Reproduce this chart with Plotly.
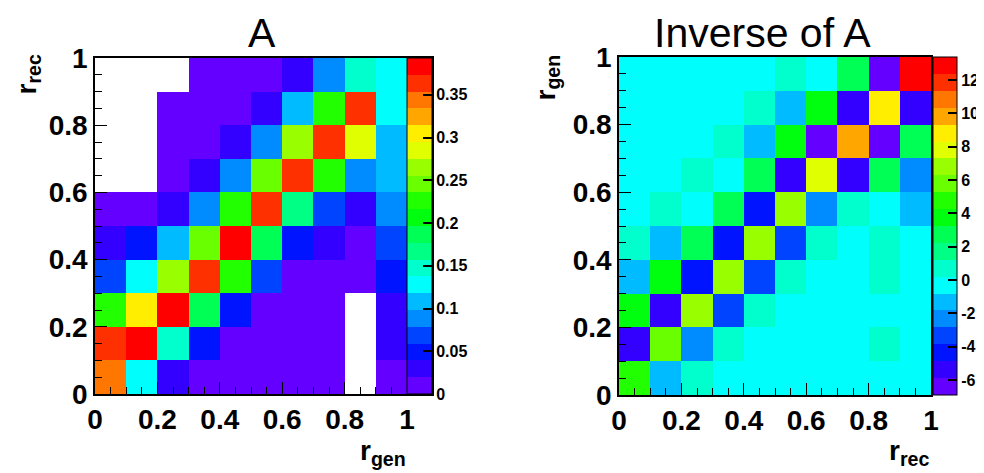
import colorsys
import plotly.graph_objects as go

# ---------------- data ----------------
bin_centers = [0.05, 0.15, 0.25, 0.35, 0.45, 0.55, 0.65, 0.75, 0.85, 0.95]
axis_ticks = [0, 0.2, 0.4, 0.6, 0.8, 1.0]
axis_ticktext = ["0", "0.2", "0.4", "0.6", "0.8", "1"]

# Matrix A: rows = r_rec bins (bottom to top), columns = r_gen bins (None = empty bin)
A_row0 = [0.344, 0.128, 0.030, 0.010, 0.008, 0.006, 0.005, 0.005, None, 0.012]
A_row1 = [0.364, 0.385, 0.147, 0.049, 0.012, 0.008, 0.006, 0.005, None, 0.030]
A_row2 = [0.226, 0.305, 0.388, 0.187, 0.049, 0.012, 0.008, 0.006, None, 0.032]
A_row3 = [0.069, 0.128, 0.265, 0.364, 0.226, 0.069, 0.012, 0.009, 0.007, 0.050]
A_row4 = [0.030, 0.049, 0.108, 0.246, 0.390, 0.187, 0.049, 0.030, 0.015, 0.069]
A_row5 = [0.010, 0.012, 0.030, 0.088, 0.226, 0.364, 0.167, 0.069, 0.030, 0.088]
A_row6 = [None, None, 0.008, 0.030, 0.088, 0.246, 0.364, 0.226, 0.088, 0.108]
A_row7 = [None, None, 0.006, 0.012, 0.030, 0.088, 0.265, 0.364, 0.285, 0.108]
A_row8 = [None, None, 0.004, 0.008, 0.015, 0.030, 0.108, 0.226, 0.364, 0.128]
A_row9 = [None, None, None, 0.004, 0.008, 0.012, 0.030, 0.088, 0.147, 0.128]
A_zrange = [0.0, 0.393]
A_cbar_vals = [0, 0.05, 0.10, 0.15, 0.20, 0.25, 0.30, 0.35]
A_cbar_text = ["0", "0.05", "0.1", "0.15", "0.2", "0.25", "0.3", "0.35"]

# Inverse of A: rows = r_gen bins (bottom to top), columns = r_rec bins
B_row0 = [4.8, -1.3, 0.7, 0.05, 0.02, 0.0, 0.0, -0.02, 0.05, 0.0]
B_row1 = [-5.4, 5.8, -2.3, 0.7, 0.1, 0.05, -0.05, 0.0, 0.5, 0.05]
B_row2 = [3.7, -5.4, 6.8, -3.4, 0.8, 0.1, -0.1, 0.0, 0.1, 0.05]
B_row3 = [-1.3, 3.7, -4.4, 6.8, -3.4, 0.8, 0.1, -0.1, 0.4, 0.0]
B_row4 = [0.7, -1.3, 2.7, -4.4, 6.8, -3.3, 0.9, 0.0, 0.5, 0.0]
B_row5 = [0.0, 0.6, -0.3, 2.7, -4.4, 6.8, -2.3, 0.7, -0.2, -1.3]
B_row6 = [0.0, 0.1, 0.6, -0.2, 2.7, -5.4, 7.8, -5.4, 2.7, -2.3]
B_row7 = [0.0, 0.0, -0.1, 0.6, -1.3, 3.7, -6.4, 9.8, -6.4, 2.7]
B_row8 = [0.0, 0.0, 0.0, -0.1, 0.6, -1.3, 3.7, -5.4, 8.8, -5.4]
B_row9 = [0.0, 0.0, 0.0, 0.0, -0.1, 0.5, -0.2, 2.7, -6.9, 13.38]
B_zrange = [-6.9, 13.38]
B_cbar_vals = [-6, -4, -2, 0, 2, 4, 6, 8, 10, 12]
B_cbar_text = ["-6", "-4", "-2", "0", "2", "4", "6", "8", "10", "12"]

A = [A_row0, A_row1, A_row2, A_row3, A_row4, A_row5, A_row6, A_row7, A_row8, A_row9]
B = [B_row0, B_row1, B_row2, B_row3, B_row4, B_row5, B_row6, B_row7, B_row8, B_row9]

# ---------------- ROOT "pretty" palette with 20 contour bands ----------------
N_BANDS = 20
colorscale = []
for k in range(N_BANDS):
    j = int((k + 0.99) * 50 / N_BANDS)
    hue = 280 - (j + 1) * 5.6
    r, g, b = colorsys.hls_to_rgb(max(hue, 0) / 360.0, 0.5, 1.0)
    c = "rgb(%d,%d,%d)" % (round(r * 255), round(g * 255), round(b * 255))
    colorscale.append([k / N_BANDS, c])
    colorscale.append([(k + 1) / N_BANDS, c])

# page offset of the figure (default body margin of the html page)
OFF = 8
W, H = 984 - OFF, 473 - OFF
def px(x):
    return (x - OFF) / W
def py(y):
    return 1 - (y - OFF) / H

FONT = "Liberation Sans"
tickfont = dict(family=FONT, size=28, color="black", weight="bold")
cbfont = dict(family=FONT, size=16, color="black", weight="bold")

fig = go.Figure()
fig.add_trace(go.Heatmap(
    x=bin_centers, y=bin_centers, z=A, zmin=A_zrange[0], zmax=A_zrange[1],
    colorscale=colorscale, xaxis="x", yaxis="y", hoverongaps=False,
    colorbar=dict(x=px(407), xanchor="left", y=py(394), yanchor="bottom",
                  len=336, lenmode="pixels", thickness=25, thicknessmode="pixels",
                  xpad=0, ypad=0, outlinewidth=1, outlinecolor="black",
                  tickvals=A_cbar_vals, ticktext=A_cbar_text, ticks="inside",
                  ticklen=9, tickcolor="black", tickwidth=1.5, tickfont=cbfont),
))
fig.add_trace(go.Heatmap(
    x=bin_centers, y=bin_centers, z=B, zmin=B_zrange[0], zmax=B_zrange[1],
    colorscale=colorscale, xaxis="x2", yaxis="y2",
    colorbar=dict(x=px(933), xanchor="left", y=py(395), yanchor="bottom",
                  len=338, lenmode="pixels", thickness=24, thicknessmode="pixels",
                  xpad=0, ypad=0, outlinewidth=1, outlinecolor="black",
                  tickvals=B_cbar_vals, ticktext=B_cbar_text, ticks="inside",
                  ticklen=9, tickcolor="black", tickwidth=1.5, tickfont=cbfont),
))

def axis(domain, rng, anchor):
    return dict(domain=domain, range=rng, anchor=anchor, tickvals=axis_ticks,
                ticktext=axis_ticktext, ticks="inside", ticklen=12, tickwidth=1.2,
                tickcolor="black", showline=True, linecolor="black", linewidth=1.5,
                mirror=True, showgrid=False, zeroline=False, tickfont=tickfont,
                minor=dict(dtick=0.05, tick0=0, ticks="inside", ticklen=7,
                           tickwidth=1.2, tickcolor="black", showgrid=False))

fig.update_layout(
    width=W, height=H, margin=dict(l=0, r=0, t=0, b=0, autoexpand=False),
    paper_bgcolor="white", plot_bgcolor="white", showlegend=False,
    xaxis=axis([px(95), px(432)], [0, 1.08], "y"),
    yaxis=axis([py(394), py(58)], [0, 1], "x"),
    xaxis2=axis([px(619), px(931)], [0, 1], "y2"),
    yaxis2=axis([py(395), py(57)], [0, 1], "x2"),
)

ann_title = dict(family=FONT, size=41, color="black")
ann_axis = dict(family=FONT, size=28, color="black")
fig.update_layout(annotations=[
    dict(text="A", x=px(262), y=py(8), xref="paper", yref="paper",
         xanchor="center", yanchor="top", showarrow=False, font=ann_title),
    dict(text="Inverse of A", x=px(762), y=py(8), xref="paper", yref="paper",
         xanchor="center", yanchor="top", showarrow=False, font=ann_title),
    dict(text="<b>r<sub>gen</sub></b>", x=px(408), y=py(433), xref="paper", yref="paper",
         xanchor="right", yanchor="top", showarrow=False, font=ann_axis),
    dict(text="<b>r<sub>rec</sub></b>", x=px(931), y=py(433), xref="paper", yref="paper",
         xanchor="right", yanchor="top", showarrow=False, font=ann_axis),
    dict(text="<b>r<sub>rec</sub></b>", x=px(8), y=py(53), xref="paper", yref="paper",
         xanchor="left", yanchor="top", textangle=-90, showarrow=False, font=ann_axis),
    dict(text="<b>r<sub>gen</sub></b>", x=px(527), y=py(53), xref="paper", yref="paper",
         xanchor="left", yanchor="top", textangle=-90, showarrow=False, font=ann_axis),
])

fig.write_html("out.html")
